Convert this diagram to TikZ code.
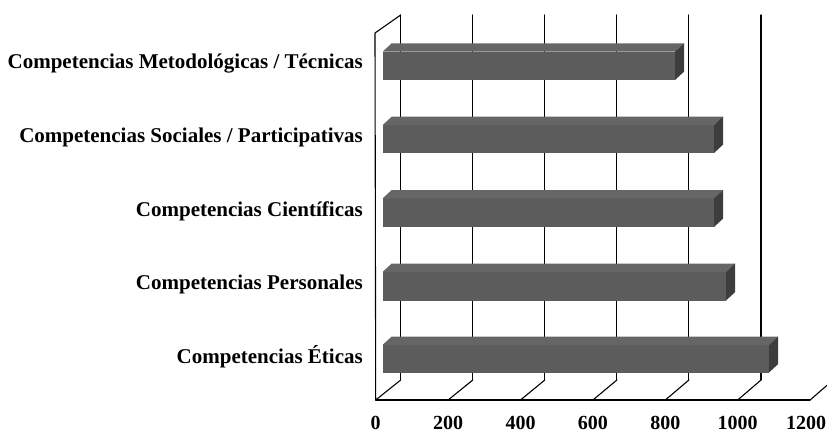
\documentclass[tikz,border=0pt]{standalone}
\usepackage{fontspec}
\setmainfont{Liberation Serif}
\usetikzlibrary{calc}
\begin{document}
\begin{tikzpicture}[x=1pt,y=-1pt,
  gridline/.style={line width=1.1pt, draw=black, line cap=round, line join=round},
  barfront/.style={fill=black!64, draw=none},
  bartop/.style={fill=black!60, draw=none},
  barend/.style={fill=black!76, draw=none},
  catlabel/.style={anchor=east, inner sep=0pt, font=\fontsize{21}{24}\selectfont\bfseries},
  ticklabel/.style={anchor=center, inner sep=0pt, font=\fontsize{20}{24}\selectfont\bfseries}]
\useasboundingbox (0,0) rectangle (827,434);
\begin{scope}
\clip (0,0) rectangle (827,434);
% axis points
\foreach \k/\bx/\fx in {0/400.7/375.7, 1/472.8/448.1, 2/544.8/520.5, 3/616.9/592.9, 4/688.9/665.3, 5/761.0/737.7, 6/833.1/810.1}{
  \coordinate (bt\k) at (\bx,15);
  \coordinate (bb\k) at (\bx,380);
  \coordinate (fr\k) at (\fx,400);
}
\coordinate (wallTop) at (375.0,33);
% left wall
\draw[gridline] (fr0) -- (wallTop) -- (bt0);
% back wall vertical grid lines
\foreach \k in {0,...,5}{ \draw[gridline] (bt\k) -- (bb\k); }
% floor
\draw[gridline] (fr0) -- (fr6);
\foreach \k in {0,...,6}{ \draw[gridline] (fr\k) -- (bb\k); }
% bars
\def\bxz{382.7}
\foreach \n/\yt/\yb/\xe in {b1/43.3/80/684, b2/116.7/153/723, b3/190/227/723, b4/263.5/300.5/735, b5/336.5/372.5/778}{
  \coordinate (\n fl) at (\bxz,\yt+8.3);
  \coordinate (\n bl) at (\bxz+9,\yt);
  \coordinate (\n br) at (\xe,\yt);
  \coordinate (\n fr) at (\xe-9,\yt+8.3);
  \coordinate (\n er) at (\xe,\yb-8.3);
  \coordinate (\n fbr) at (\xe-9,\yb);
  \coordinate (\n fbl) at (\bxz,\yb);
  \fill[barfront] (\n fl) -- (\n fr) -- (\n fbr) -- (\n fbl) -- cycle;
  \fill[bartop] (\n fl) -- (\n bl) -- (\n br) -- (\n fr) -- cycle;
  \fill[barend] (\n fr) -- (\n br) -- (\n er) -- (\n fbr) -- cycle;
}
\end{scope}
% category labels
\node[catlabel] (l1) at (363,64) {Competencias Metodológicas / Técnicas};
\node[catlabel] (l2) at (363,137) {Competencias Sociales / Participativas};
\node[catlabel] (l3) at (363,211) {Competencias Científicas};
\node[catlabel] (l4) at (363,284) {Competencias Personales};
\node[catlabel] (l5) at (363,357) {Competencias Éticas};
% tick labels
\foreach \k/\v in {0/0,1/200,2/400,3/600,4/800,5/1000}{
  \node[ticklabel] (t\k) at ($(fr\k)+(0,22.5)$) {\v};
}
\node[ticklabel] (t6) at ($(fr6)+(-4,22.5)$) {1200};
\end{tikzpicture}
\end{document}
